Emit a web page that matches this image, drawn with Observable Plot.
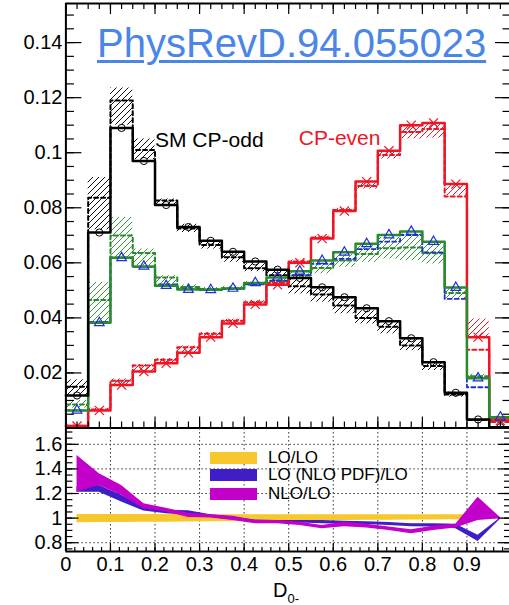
<!DOCTYPE html>
<html>
<head>
<meta charset="utf-8">
<script src="https://cdn.jsdelivr.net/npm/d3@7"></script>
<script src="https://cdn.jsdelivr.net/npm/@observablehq/plot@0.6"></script>
<style>
  html, body { margin: 0; padding: 0; background: #fff; overflow: hidden; }
  #wrap { position: relative; width: 509px; height: 605px; overflow: hidden; background: #fff;
          font-family: "Liberation Sans", Arial, sans-serif; color: #000; }
  #main, #ratio { position: absolute; left: 0; }
  #main { top: 0; }
  #ratio { top: 428px; }
  .link { position: absolute; left: 97px; top: 23px; font-size: 40px; line-height: 40px;
          color: #4a86e8; text-decoration: underline; text-decoration-thickness: 3px;
          text-underline-offset: 3px; white-space: nowrap; }
  .leg { position: absolute; left: 210px; height: 12px; display: flex; align-items: center;
         font-size: 17px; white-space: nowrap; }
  .leg .sw { display: inline-block; width: 47px; height: 12px; margin-right: 11px; }
  .xtitle { position: absolute; left: 273px; top: 580px; font-size: 20px; line-height: 20px; white-space: nowrap; }
  .xtitle .sub { font-size: 13px; position: relative; top: 6px; }
</style>
</head>
<body>
<div id="wrap">
  <svg width="0" height="0" style="position:absolute">
    <defs>
      <pattern id="hatch-black" patternUnits="userSpaceOnUse" width="6" height="6">
        <path d="M-1,1 l2,-2 M0,6 l6,-6 M5,7 l2,-2" stroke="#111" stroke-width="1"/>
      </pattern>
      <pattern id="hatch-red" patternUnits="userSpaceOnUse" width="6" height="6">
        <path d="M-1,1 l2,-2 M0,6 l6,-6 M5,7 l2,-2" stroke="#ee1525" stroke-width="1"/>
      </pattern>
      <pattern id="hatch-green" patternUnits="userSpaceOnUse" width="6" height="6">
        <path d="M-1,1 l2,-2 M0,6 l6,-6 M5,7 l2,-2" stroke="#3d9440" stroke-width="1"/>
      </pattern>
    </defs>
  </svg>
  <div id="main"></div>
  <div id="ratio"></div>
  <div class="link">PhysRevD.94.055023</div>
  <div id="legend"></div>
  <div class="xtitle">D<span class="sub">0-</span></div>
</div>
<script>
// Bin edges of the D0- histograms (20 bins of width 0.05)
const binEdges = [0, 0.05, 0.1, 0.15, 0.2, 0.25, 0.3, 0.35, 0.4, 0.45, 0.5,
                  0.55, 0.6, 0.65, 0.7, 0.75, 0.8, 0.85, 0.9, 0.95, 1.0];
const binCenters = [0.025, 0.075, 0.125, 0.175, 0.225, 0.275, 0.325, 0.375, 0.425, 0.475,
                    0.525, 0.575, 0.625, 0.675, 0.725, 0.775, 0.825, 0.875, 0.925, 0.975];

// SM CP-odd (black): LO solid, NLO dashed, uncertainty band
const oddLO   = [0.0118, 0.071, 0.109, 0.097, 0.081, 0.073, 0.068, 0.064, 0.0605, 0.0575,
                 0.0545, 0.0511, 0.0475, 0.0435, 0.0388, 0.0326, 0.0239, 0.0128, 0.0031, 0.0003];
const oddNLO  = [0.015, 0.0836, 0.119, 0.101, 0.0826, 0.0725, 0.0665, 0.062, 0.058, 0.0555,
                 0.0515, 0.0485, 0.0445, 0.040, 0.0368, 0.030, 0.0225, 0.0122, 0.0029, 0.0003];
const oddLow  = [0.0115, 0.072, 0.110, 0.0975, 0.0808, 0.071, 0.065, 0.0602, 0.0568, 0.0542,
                 0.0487, 0.0457, 0.0415, 0.0378, 0.0342, 0.0281, 0.0209, 0.0112, 0.0025, 0.0001];
const oddHigh = [0.0175, 0.091, 0.1235, 0.105, 0.0832, 0.074, 0.068, 0.0633, 0.0597, 0.0572,
                 0.0541, 0.0509, 0.0469, 0.0426, 0.0384, 0.0324, 0.0239, 0.013, 0.0033, 0.0005];

// CP-even (red)
const evenLO   = [0.0007, 0.0064, 0.0156, 0.0205, 0.0235, 0.0273, 0.033, 0.038, 0.0449, 0.052,
                  0.060, 0.0688, 0.0788, 0.0895, 0.1007, 0.110, 0.1108, 0.0886, 0.033, 0.0027];
const evenNLO  = [0.0008, 0.0067, 0.0172, 0.0227, 0.0248, 0.0293, 0.0342, 0.039, 0.0457, 0.0527,
                  0.0605, 0.0692, 0.0792, 0.0879, 0.0992, 0.1075, 0.1086, 0.0841, 0.0284, 0.0022];
const evenLow  = [0.0005, 0.006, 0.0155, 0.0205, 0.0233, 0.027, 0.033, 0.038, 0.0447, 0.052,
                  0.060, 0.0685, 0.0785, 0.0868, 0.0977, 0.105, 0.1053, 0.0844, 0.033, 0.0018];
const evenHigh = [0.001, 0.0072, 0.0178, 0.023, 0.0252, 0.0298, 0.0347, 0.0395, 0.0462, 0.0532,
                  0.061, 0.0697, 0.0797, 0.089, 0.1007, 0.110, 0.1108, 0.0886, 0.0396, 0.0028];

// Mixed (green solid with blue triangles, green dashed + band, blue dashed)
const mixLO   = [0.0064, 0.0382, 0.0618, 0.0587, 0.0517, 0.0503, 0.0502, 0.0507, 0.0527, 0.0547,
                 0.0569, 0.0608, 0.0638, 0.0669, 0.0701, 0.0714, 0.0677, 0.051, 0.0181, 0.0039];
const mixNLO  = [0.0085, 0.0465, 0.0699, 0.0636, 0.0547, 0.0512, 0.0505, 0.0508, 0.0525, 0.0532,
                 0.0554, 0.0581, 0.0608, 0.0632, 0.0653, 0.0656, 0.0635, 0.049, 0.0188, 0.0035];
const mixLow  = [0.0072, 0.0384, 0.062, 0.059, 0.0517, 0.050, 0.0495, 0.050, 0.0515, 0.0523,
                 0.0542, 0.056, 0.0584, 0.0602, 0.0614, 0.0608, 0.0596, 0.0469, 0.0181, 0.003];
const mixHigh = [0.010, 0.0529, 0.0765, 0.065, 0.0553, 0.052, 0.051, 0.0515, 0.053, 0.0542,
                 0.0566, 0.0602, 0.0632, 0.0662, 0.0692, 0.0705, 0.0674, 0.0509, 0.0195, 0.004];
const mixPDF  = [0.0064, 0.0385, 0.062, 0.0585, 0.0522, 0.0505, 0.0502, 0.0505, 0.0522, 0.0535,
                 0.0555, 0.0596, 0.0614, 0.065, 0.0677, 0.0701, 0.0638, 0.0469, 0.0148, 0.003];

// Ratio panel bands (evaluated at bin centres)
const ratioNames  = ["LO/LO", "LO (NLO PDF)/LO", "NLO/LO"];
const ratioColors = ["#f6c82e", "#3f1ec8", "#c200c9"];
const loLow   = [0.963, 0.964, 0.965, 0.966, 0.967, 0.968, 0.97, 0.972, 0.974, 0.976,
                 0.978, 0.98, 0.981, 0.982, 0.983, 0.984, 0.985, 0.986, 0.988, 0.995];
const loHigh  = [1.03, 1.03, 1.03, 1.03, 1.029, 1.029, 1.028, 1.028, 1.027, 1.027,
                 1.027, 1.027, 1.027, 1.027, 1.027, 1.027, 1.027, 1.027, 1.027, 1.005];
const pdfLow  = [1.211, 1.21, 1.13, 1.057, 1.036, 1.024, 1.005, 0.985, 0.965, 0.96,
                 0.96, 0.955, 0.95, 0.948, 0.94, 0.93, 0.927, 0.913, 0.81, 0.99];
const pdfHigh = [1.252, 1.266, 1.185, 1.09, 1.063, 1.06, 1.028, 1.01, 0.985, 0.98,
                 0.98, 0.98, 0.975, 0.97, 0.965, 0.955, 0.955, 0.95, 0.86, 1.0];
const nloLow  = [1.211, 1.266, 1.185, 1.076, 1.05, 1.005, 1.0, 0.98, 0.954, 0.955,
                 0.94, 0.914, 0.93, 0.92, 0.9, 0.873, 0.9, 0.92, 0.98, 0.995];
const nloHigh = [1.51, 1.361, 1.266, 1.117, 1.08, 1.04, 1.028, 1.016, 0.98, 0.98,
                 0.967, 0.94, 0.967, 0.95, 0.927, 0.906, 0.933, 0.95, 1.17, 1.005];

// Axis tick labels
const mainYLabels = [0.02, 0.04, 0.06, 0.08, 0.1, 0.12, 0.14];
const ratioYLabels = [0.8, 1, 1.2, 1.4, 1.6];
const xLabels = [0, 0.1, 0.2, 0.3, 0.4, 0.5, 0.6, 0.7, 0.8, 0.9];

// Text annotations in the upper panel
const annotations = [
  {text: "SM CP-odd", x: 0.2, y: 0.1022, color: "#000"},
  {text: "CP-even", x: 0.5226, y: 0.1029, color: "#ee1525"}
];

// ---- geometry ----
const FONT = "Liberation Sans, Arial, sans-serif";
const xDomain = [0, 1], xRange = [65.4, 511];
const mainYDomain = [0, 0.1542], mainYRange = [427.5, 3];
const ratioYDomain = [0.7285, 1.7285], ratioYRange = [123, 0];
const xPx = (xDomain[1] - xDomain[0]) / (xRange[1] - xRange[0]);
const mainPx = (mainYDomain[1] - mainYDomain[0]) / (mainYRange[0] - mainYRange[1]);
const ratioPx = (ratioYDomain[1] - ratioYDomain[0]) / (ratioYRange[0] - ratioYRange[1]);

const steps = vals => binEdges.map((e, i) => ({x: e, y: vals[Math.min(i, vals.length - 1)]}));
const bands = (lo, hi) => lo.map((l, i) => ({x1: binEdges[i], x2: binEdges[i + 1], y1: l, y2: hi[i]}));
const pts = vals => vals.map((v, i) => ({x: binCenters[i], y: v}));
const seq = (a, b, s) => d3.range(Math.round((b - a) / s) + 1).map(i => +(a + i * s).toFixed(4));

// Inward ticks on the sides of a frame
function frameTicks(xMajor, xMinor, yMajor, yMinor, yPx, yDom, opts) {
  const {xMajLen, xMinLen, yMajLen, yMinLen, top} = opts;
  const m = [];
  const yl = yDom[0], yh = yDom[1];
  const tick = {stroke: "#000", strokeWidth: 1.2};
  m.push(Plot.ruleY(yMajor, {y: d => d, x1: xDomain[0], x2: xDomain[0] + yMajLen * xPx, ...tick}));
  m.push(Plot.ruleY(yMinor, {y: d => d, x1: xDomain[0], x2: xDomain[0] + yMinLen * xPx, ...tick}));
  m.push(Plot.ruleY(yMajor, {y: d => d, x1: xDomain[1] - yMajLen * xPx, x2: xDomain[1], ...tick}));
  m.push(Plot.ruleY(yMinor, {y: d => d, x1: xDomain[1] - yMinLen * xPx, x2: xDomain[1], ...tick}));
  m.push(Plot.ruleX(xMajor, {x: d => d, y1: yl, y2: yl + xMajLen * yPx, ...tick}));
  m.push(Plot.ruleX(xMinor, {x: d => d, y1: yl, y2: yl + xMinLen * yPx, ...tick}));
  if (top) {
    m.push(Plot.ruleX(xMajor, {x: d => d, y1: yh - xMajLen * yPx, y2: yh, ...tick}));
    m.push(Plot.ruleX(xMinor, {x: d => d, y1: yh - xMinLen * yPx, y2: yh, ...tick}));
  }
  return m;
}

const RED = "#ee1525", GREEN = "#2a8a2e", BLUE = "#1f2fd6";

// ---- upper panel: normalised distributions ----
const main = Plot.plot({
  width: 509, height: 429,
  marginLeft: 65.4, marginRight: 0, marginTop: 3, marginBottom: 1.5,
  x: {domain: xDomain, range: xRange},
  y: {domain: mainYDomain, range: mainYRange},
  axis: null,
  style: {fontFamily: FONT, fontSize: "20px", color: "#000", background: "transparent", overflow: "hidden"},
  marks: [
    Plot.rect(bands(mixLow, mixHigh), {x1: "x1", x2: "x2", y1: "y1", y2: "y2", fill: "url(#hatch-green)"}),
    Plot.rect(bands(evenLow, evenHigh), {x1: "x1", x2: "x2", y1: "y1", y2: "y2", fill: "url(#hatch-red)"}),
    Plot.rect(bands(oddLow, oddHigh), {x1: "x1", x2: "x2", y1: "y1", y2: "y2", fill: "url(#hatch-black)"}),

    Plot.line(steps(mixNLO), {x: "x", y: "y", curve: "step-after", stroke: GREEN, strokeWidth: 2, strokeDasharray: "4,3"}),
    Plot.line(steps(mixPDF), {x: "x", y: "y", curve: "step-after", stroke: BLUE, strokeWidth: 1.8, strokeDasharray: "4,3"}),
    Plot.line(steps(evenNLO), {x: "x", y: "y", curve: "step-after", stroke: RED, strokeWidth: 2, strokeDasharray: "4,3"}),
    Plot.line(steps(oddNLO), {x: "x", y: "y", curve: "step-after", stroke: "#000", strokeWidth: 2, strokeDasharray: "4,3"}),

    Plot.line(steps(evenLO), {x: "x", y: "y", curve: "step-after", stroke: RED, strokeWidth: 2.5}),
    Plot.line(steps(mixLO), {x: "x", y: "y", curve: "step-after", stroke: GREEN, strokeWidth: 2.5}),
    Plot.line(steps(oddLO), {x: "x", y: "y", curve: "step-after", stroke: "#000", strokeWidth: 2.5}),

    Plot.dot(pts(oddLO), {x: "x", y: "y", r: 3.6, stroke: "#000", fill: "none", strokeWidth: 1}),
    Plot.dot(pts(evenLO), {x: "x", y: "y", r: 4.2, symbol: "times", stroke: RED, fill: "none", strokeWidth: 1.2}),
    Plot.dot(pts(mixLO), {x: "x", y: "y", r: 3.6, symbol: "triangle", stroke: BLUE, fill: "none", strokeWidth: 1.2}),

    Plot.text(annotations, {x: "x", y: "y", text: "text", fill: "color", textAnchor: "start",
                            lineAnchor: "bottom", fontSize: 21, fontFamily: FONT}),

    // frame
    Plot.ruleX([xDomain[0]], {stroke: "#000", strokeWidth: 2}),
    Plot.ruleY([mainYDomain[0]], {stroke: "#000", strokeWidth: 2}),
    Plot.ruleY([mainYDomain[1]], {stroke: "#000", strokeWidth: 2}),
    ...frameTicks(seq(0, 1, 0.1), seq(0, 1, 0.025), seq(0, 0.14, 0.02), seq(0, 0.15, 0.005),
                  mainPx, mainYDomain, {xMajLen: 11, xMinLen: 6, yMajLen: 16, yMinLen: 8.5, top: true}),
    Plot.axisY({ticks: mainYLabels, tickSize: 0, tickPadding: 3.5, fontSize: 20, fontFamily: FONT,
                label: null, tickFormat: d => String(d)})
  ]
});
document.getElementById("main").appendChild(main);

// ---- lower panel: ratios ----
const ratioRows = (lo, hi) => lo.map((l, i) => ({x: binCenters[i], y1: l, y2: hi[i]}));
const ratio = Plot.plot({
  width: 509, height: 177,
  marginLeft: 65.4, marginRight: 0, marginTop: 0, marginBottom: 54,
  x: {domain: xDomain, range: xRange},
  y: {domain: ratioYDomain, range: ratioYRange},
  axis: null,
  style: {fontFamily: FONT, fontSize: "20px", color: "#000", background: "transparent", overflow: "hidden"},
  marks: [
    Plot.ruleY(ratioYLabels, {stroke: "#333", strokeWidth: 1, strokeDasharray: "1.5,2.5"}),
    Plot.ruleX(seq(0.1, 0.9, 0.1), {stroke: "#333", strokeWidth: 1, strokeDasharray: "1.5,2.5"}),
    Plot.areaY(ratioRows(loLow, loHigh), {x: "x", y1: "y1", y2: "y2", fill: ratioColors[0]}),
    Plot.areaY(ratioRows(pdfLow, pdfHigh), {x: "x", y1: "y1", y2: "y2", fill: ratioColors[1]}),
    Plot.areaY(ratioRows(nloLow, nloHigh), {x: "x", y1: "y1", y2: "y2", fill: ratioColors[2]}),
    Plot.ruleX([xDomain[0]], {stroke: "#000", strokeWidth: 2}),
    Plot.ruleY([ratioYDomain[0]], {stroke: "#000", strokeWidth: 2}),
    ...frameTicks(seq(0, 1, 0.1), seq(0, 1, 0.02), seq(0.8, 1.6, 0.2), seq(0.75, 1.7, 0.05),
                  ratioPx, ratioYDomain, {xMajLen: 8, xMinLen: 4, yMajLen: 13, yMinLen: 7, top: false}),
    Plot.axisY({ticks: ratioYLabels, tickSize: 0, tickPadding: 3.5, fontSize: 20, fontFamily: FONT,
                label: null, tickFormat: d => String(d)}),
    Plot.axisX({ticks: xLabels, tickSize: 0, tickPadding: 5, fontSize: 20, fontFamily: FONT,
                label: null, tickFormat: d => String(d)})
  ]
});
document.getElementById("ratio").appendChild(ratio);

// ---- ratio legend ----
const legend = document.getElementById("legend");
const legendTop = [451.7, 469.3, 487.7];
ratioNames.forEach((name, i) => {
  const row = document.createElement("div");
  row.className = "leg";
  row.style.top = legendTop[i] + "px";
  const sw = document.createElement("span");
  sw.className = "sw";
  sw.style.background = ratioColors[i];
  row.appendChild(sw);
  row.appendChild(document.createTextNode(name));
  legend.appendChild(row);
});
</script>
</body>
</html>
